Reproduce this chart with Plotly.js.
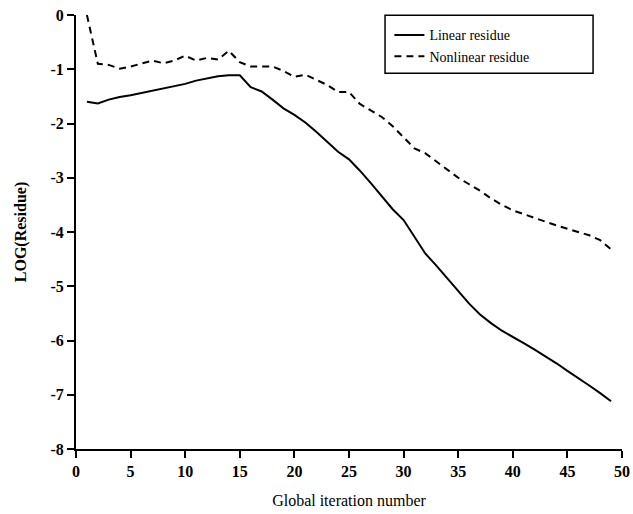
<!DOCTYPE html>
<html>
<head>
<meta charset="utf-8">
<script src="https://cdn.plot.ly/plotly-3.0.1.min.js"></script>
<style>html,body{margin:0;padding:0;background:#fff;}#chart{width:633px;height:514px;}</style>
</head>
<body>
<div id="chart"></div>
<script>
const iterations = [1,2,3,4,5,6,7,8,9,10,11,12,13,14,15,16,17,18,19,20,21,22,23,24,25,26,27,28,29,30,31,32,33,34,35,36,37,38,39,40,41,42,43,44,45,46,47,48,49];
const linearResidue = [-1.60,-1.63,-1.56,-1.51,-1.48,-1.44,-1.39,-1.35,-1.31,-1.27,-1.21,-1.17,-1.13,-1.11,-1.11,-1.33,-1.41,-1.56,-1.72,-1.84,-1.98,-2.15,-2.34,-2.52,-2.66,-2.87,-3.10,-3.35,-3.58,-3.78,-4.10,-4.40,-4.62,-4.86,-5.10,-5.32,-5.52,-5.68,-5.82,-5.93,-6.05,-6.17,-6.29,-6.42,-6.56,-6.69,-6.83,-6.97,-7.12];
const nonlinearResidue = [0.0,-0.90,-0.92,-0.99,-0.95,-0.90,-0.84,-0.89,-0.84,-0.75,-0.84,-0.79,-0.82,-0.66,-0.87,-0.95,-0.95,-0.95,-1.03,-1.14,-1.10,-1.20,-1.29,-1.42,-1.42,-1.64,-1.76,-1.88,-2.05,-2.25,-2.46,-2.55,-2.70,-2.84,-3.00,-3.12,-3.24,-3.38,-3.50,-3.60,-3.67,-3.75,-3.82,-3.88,-3.94,-4.00,-4.06,-4.15,-4.32];
const xTicks = [0,5,10,15,20,25,30,35,40,45,50];
const yTicks = [0,-1,-2,-3,-4,-5,-6,-7,-8];
const yTickText = ['0','-1','-2','-3','-4','-5','-6','-7','-8'];

const serif = 'Liberation Serif, Times New Roman, serif';
const traces = [
  {x: iterations, y: linearResidue, mode: 'lines', name: 'Linear residue',
   line: {color: '#000', width: 2}, cliponaxis: false},
  {x: iterations, y: nonlinearResidue, mode: 'lines', name: 'Nonlinear residue',
   line: {color: '#000', width: 2, dash: '7px,5px'}, cliponaxis: false}
];
const layout = {
  width: 633, height: 514,
  margin: {l: 76, r: 11, t: 15, b: 65},
  paper_bgcolor: '#fff', plot_bgcolor: '#fff',
  font: {family: serif, color: '#000'},
  showlegend: true,
  legend: {x: 0.574, y: 0.99, xanchor: 'left', yanchor: 'top',
    borderwidth: 0, bgcolor: 'rgba(0,0,0,0)',
    font: {family: serif, size: 14, color: '#000'}, tracegroupgap: 0},
  shapes: [{type: 'rect', xref: 'paper', yref: 'paper',
    x0: 0.566, x1: 0.947, y0: 0.866, y1: 0.9995,
    line: {color: '#000', width: 1.5}, fillcolor: 'rgba(0,0,0,0)'}],
  xaxis: {range: [0, 50], tickvals: xTicks, ticktext: xTicks.map(String),
    showgrid: false, zeroline: false, showline: true, linecolor: '#000', linewidth: 2,
    ticks: 'outside', ticklen: 7, tickwidth: 2, tickcolor: '#000',
    tickfont: {family: serif, size: 16, color: '#000', weight: 'bold'},
    title: {text: 'Global iteration number', font: {family: serif, size: 16, color: '#000'}, standoff: 16}},
  yaxis: {range: [-8, 0], tickvals: yTicks, ticktext: yTickText,
    showgrid: false, zeroline: false, showline: true, linecolor: '#000', linewidth: 2,
    ticks: 'outside', ticklen: 7, tickwidth: 2, tickcolor: '#000',
    tickfont: {family: serif, size: 16, color: '#000', weight: 'bold'},
    title: {text: 'LOG(Residue)', font: {family: serif, size: 16, color: '#000', weight: 'bold'}, standoff: 20}}
};
Plotly.newPlot('chart', traces, layout, {displayModeBar: false, staticPlot: true});
</script>
</body>
</html>
